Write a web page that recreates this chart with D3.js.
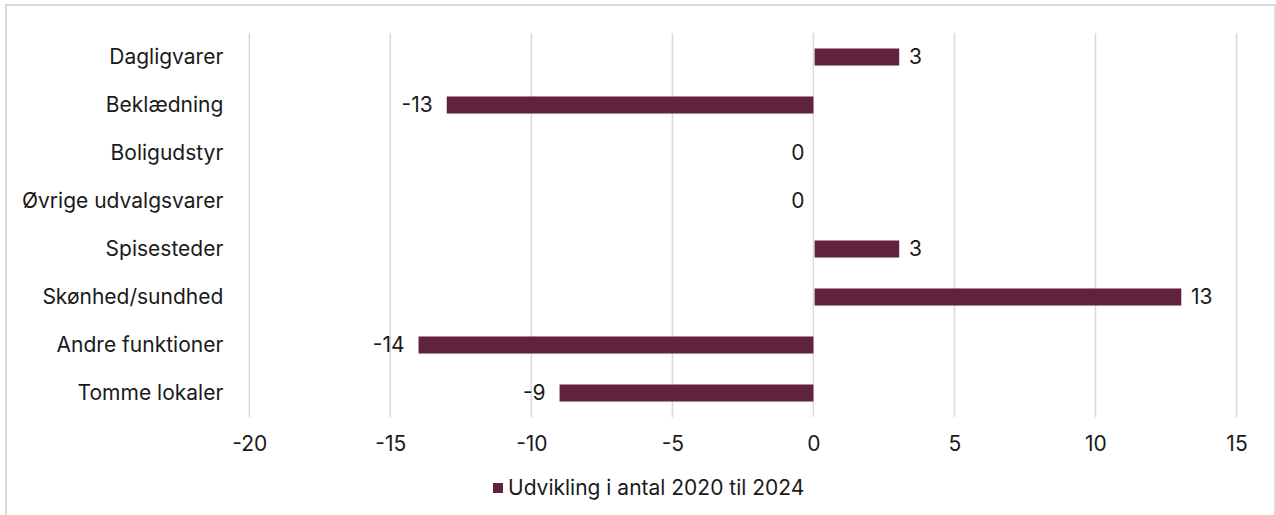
<!DOCTYPE html>
<html>
<head>
<meta charset="utf-8">
<script src="https://cdn.jsdelivr.net/npm/d3@7"></script>
<style>
  html, body { margin: 0; padding: 0; background: #fff; }
  svg { display: block; font-family: Inter, "Noto Sans", sans-serif; }
</style>
</head>
<body>
<svg id="chart" width="1276" height="515"></svg>
<script>
// Change in number of units per category, 2020 to 2024
const categories = ["Dagligvarer", "Beklædning", "Boligudstyr", "Øvrige udvalgsvarer",
                    "Spisesteder", "Skønhed/sundhed", "Andre funktioner", "Tomme lokaler"];
const values = [3, -13, 0, 0, 3, 13, -14, -9];
const xTicks = [-20, -15, -10, -5, 0, 5, 10, 15];
const seriesName = "Udvikling i antal 2020 til 2024";

const W = 1276, H = 515;
const barColor = "#62213f";
const gridColor = "#d9d9d9";
const textColor = "#1a1a1a";
const fontSize = 21;

const svg = d3.select("#chart");

// outer frame
svg.append("rect")
  .attr("x", 6).attr("y", 5)
  .attr("width", W - 7).attr("height", H + 10)
  .attr("fill", "none").attr("stroke", gridColor).attr("stroke-width", 2);

const plot = { left: 249.3, right: 1236.5, top: 33, bottom: 417 };

const x = d3.scaleLinear().domain([-20, 15]).range([plot.left, plot.right]);
const y = d3.scaleBand().domain(categories).range([plot.top, plot.bottom]).paddingInner(0.645).paddingOuter(0.3225);

// vertical gridlines
svg.append("g")
  .selectAll("line")
  .data(xTicks)
  .join("line")
  .attr("x1", d => x(d)).attr("x2", d => x(d))
  .attr("y1", plot.top).attr("y2", plot.bottom)
  .attr("stroke", gridColor).attr("stroke-width", 1.5);

// x-axis tick labels
const xAxis = d3.axisBottom(x).tickValues(xTicks).tickSize(0).tickPadding(0)
  .tickFormat(d => d < 0 ? "-" + Math.abs(d) : String(d));
const gx = svg.append("g").attr("transform", `translate(0, ${plot.bottom + 27})`).call(xAxis);
gx.select(".domain").remove();
gx.selectAll("text")
  .attr("font-family", "Inter, sans-serif")
  .attr("font-size", fontSize).attr("fill", textColor).attr("dy", "0.35em");

// category labels
const yAxis = d3.axisLeft(y).tickSize(0).tickPadding(26);
const gy = svg.append("g").attr("transform", `translate(${plot.left}, 0)`).call(yAxis);
gy.select(".domain").remove();
gy.selectAll("text")
  .attr("font-family", "Inter, sans-serif")
  .attr("font-size", fontSize).attr("fill", textColor);

// bars
svg.append("g")
  .selectAll("rect")
  .data(values.map((v, i) => ({ cat: categories[i], v })))
  .join("rect")
  .attr("x", d => Math.min(x(0), x(d.v)) + (d.v > 0 ? 1.2 : 0))
  .attr("width", d => Math.abs(x(d.v) - x(0)))
  .attr("y", d => y(d.cat))
  .attr("height", y.bandwidth())
  .attr("fill", barColor);

// value labels: right of positive bars, left of negative and zero bars
svg.append("g")
  .selectAll("text")
  .data(values.map((v, i) => ({ cat: categories[i], v })))
  .join("text")
  .attr("x", d => d.v > 0 ? x(d.v) + 11 : (d.v === 0 ? x(0) - 9 : x(d.v) - 14))
  .attr("y", d => y(d.cat) + y.bandwidth() / 2)
  .attr("dy", "0.35em")
  .attr("text-anchor", d => d.v > 0 ? "start" : "end")
  .attr("font-size", fontSize).attr("fill", textColor)
  .text(d => d.v < 0 ? "-" + Math.abs(d.v) : String(d.v));

// legend
const legend = svg.append("g").attr("transform", "translate(493, 488)");
legend.append("rect").attr("x", 0).attr("y", -5).attr("width", 10).attr("height", 10).attr("fill", barColor);
legend.append("text").attr("x", 15).attr("dy", "0.35em")
  .attr("font-size", fontSize).attr("fill", textColor).text(seriesName);
</script>
</body>
</html>
